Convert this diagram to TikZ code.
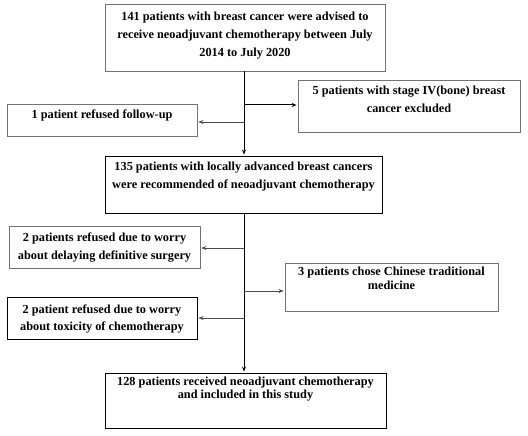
\documentclass[tikz,border=0pt]{standalone}
\usepackage{fontspec}
\setmainfont{Liberation Serif}
\usetikzlibrary{positioning,arrows.meta}

\newlength{\du}
\setlength{\du}{1pt}

\definecolor{boxgray}{rgb}{0.450000, 0.450000, 0.450000}
\definecolor{linegray}{rgb}{0.300000, 0.300000, 0.300000}

\tikzset{
  graybox/.style={draw=boxgray, line width=0.8pt, inner sep=0pt},
  blackbox/.style={draw=black, line width=0.9pt, inner sep=0pt},
  boxtext/.style={align=center, inner sep=0pt, font=\fontsize{12.3}{18}\selectfont\bfseries},
  spineline/.style={draw=black, line width=1pt},
  spinearrow/.style={spineline, -{Stealth[length=5pt,width=4pt]}, shorten >=1pt},
  sidearrow/.style={draw=linegray, line width=0.6pt, -{Stealth[length=5pt,width=4pt]}, shorten >=1pt},
}

\begin{document}
\begin{tikzpicture}
\useasboundingbox (0,0) rectangle (528\du,-436\du);
\fill[white] (0,0) rectangle (528\du,-436\du);
% boxes
\node[graybox, minimum width=280\du, minimum height=67\du] (start) at (245\du,-37.5\du) {};
\node[graybox, minimum width=190\du, minimum height=32\du] (followup) at (102\du,-120\du) {};
\node[graybox, minimum width=222\du, minimum height=52\du] (stageiv) at (409\du,-106\du) {};
\node[blackbox, minimum width=277\du, minimum height=57\du] (recommended) at (243.5\du,-184.5\du) {};
\node[graybox, minimum width=191\du, minimum height=42\du] (delay) at (104.5\du,-247\du) {};
\node[graybox, minimum width=213\du, minimum height=48\du] (chinese) at (391.5\du,-287\du) {};
\node[blackbox, minimum width=190\du, minimum height=42\du] (toxicity) at (102\du,-318\du) {};
\node[blackbox, minimum width=281\du, minimum height=55\du] (included) at (245.5\du,-400.5\du) {};
% texts
\node[boxtext, below=8.5\du of start.north] (starttext)
  {141 patients with breast cancer were advised to\\receive neoadjuvant chemotherapy between July\\2014 to July 2020};
\node[boxtext, below=6.5\du of followup.north] (followuptext) {1 patient refused follow-up};
\node[boxtext, below=6.5\du of stageiv.north] (stageivtext)
  {5 patients with stage IV(bone) breast\\cancer excluded};
\node[boxtext, below=6.5\du of recommended.north] (recommendedtext)
  {135 patients with locally advanced breast cancers\\were recommended of neoadjuvant chemotherapy};
\node[boxtext, below=7.5\du of delay.north] (delaytext)
  {2 patients refused due to worry\\about delaying definitive surgery};
\node[boxtext, font=\fontsize{12.3}{14}\selectfont\bfseries, below=4.5\du of chinese.north] (chinesetext)
  {3 patients chose Chinese traditional\\medicine};
\node[boxtext, font=\fontsize{12.3}{17}\selectfont\bfseries, below=8.5\du of toxicity.north] (toxicitytext)
  {2 patient refused due to worry\\about toxicity of chemotherapy};
\node[boxtext, font=\fontsize{12.3}{13}\selectfont\bfseries, below=4.5\du of included.north] (includedtext)
  {128 patients received neoadjuvant chemotherapy\\and included in this study};
% connectors
\coordinate (spine) at (244\du,0);
\draw[spinearrow] (start.south -| spine) -- (recommended.north -| spine);
\draw[spinearrow] (recommended.south -| spine) -- (included.north -| spine);
\draw[sidearrow] ([yshift=-2\du]followup.east -| spine) -- ([yshift=-2\du]followup.east);
\draw[spinearrow] ([yshift=1\du]stageiv.west -| spine) -- ([yshift=1\du]stageiv.west);
\draw[sidearrow] ([yshift=-1\du]delay.east -| spine) -- ([yshift=-1\du]delay.east);
\draw[sidearrow] ([yshift=-4\du]chinese.west -| spine) -- ([yshift=-4\du]chinese.west);
\draw[sidearrow] (toxicity.east -| spine) -- (toxicity.east);
\end{tikzpicture}
\end{document}
